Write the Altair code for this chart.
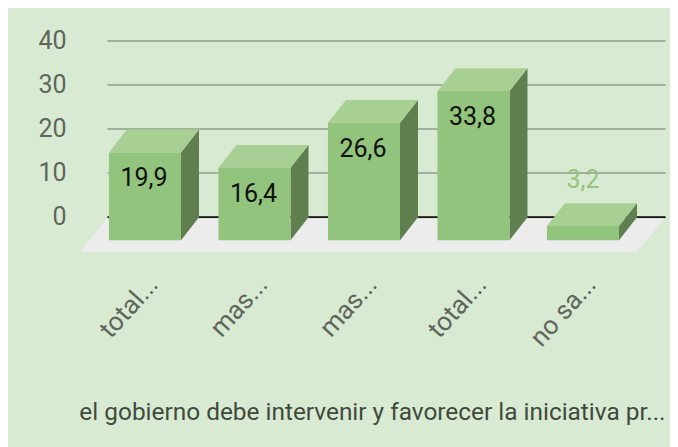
import altair as alt
import pandas as pd

categories = ["total...", "mas...", "mas...", "total...", "no sa..."]
values = [19.9, 16.4, 26.6, 33.8, 3.2]
value_labels = ["19,9", "16,4", "26,6", "33,8", "3,2"]
y_ticks = [0, 10, 20, 30, 40]
x_title = "el gobierno debe intervenir y favorecer la iniciativa pr..."

HW, DX = 0.329, 0.164      # half bar width and depth, in category units
BASE, DZ = -5.3, 5.2       # front floor level and depth, in value units
XDOM = [-0.347, 4.749]
YDOM = [0, 40]
FONT = "Roboto"
BG = "#d9ead3"

xs = alt.Scale(domain=XDOM, nice=False, zero=False, padding=0)
ys = alt.Scale(domain=YDOM, nice=False, zero=False, padding=0)

bars = pd.DataFrame({"u": range(len(values)), "v": values, "lab": value_labels})
bars["x0"] = bars.u - HW
bars["x1"] = bars.u + HW
bars["top"] = bars.v + BASE
bars["base"] = BASE
bars["uc"] = bars.u

side_rows, top_rows = [], []
for i, v in enumerate(values):
    side_rows += [
        {"b": i, "x": i + HW, "y": v + BASE, "y2": BASE},
        {"b": i, "x": i + HW + DX, "y": v + BASE + DZ, "y2": BASE + DZ},
    ]
    top_rows += [
        {"b": i, "y": v + BASE, "x": i - HW, "x2": i + HW},
        {"b": i, "y": v + BASE + DZ, "x": i - HW + DX, "x2": i + HW + DX},
    ]
side = pd.DataFrame(side_rows)
top = pd.DataFrame(top_rows)
floor = pd.DataFrame([
    {"y": -8.0, "x": -0.594, "x2": 4.49},
    {"y": -0.35, "x": -0.347, "x2": 4.749},
])

names_js = "[" + ",".join(f"'{c}'" for c in categories) + "]"

floor_layer = alt.Chart(floor).mark_area(orient="horizontal", color="#ececec").encode(
    y=alt.Y("y:Q", scale=ys, axis=alt.Axis(
        values=y_ticks, grid=True, gridColor="#a3b09b", gridWidth=2,
        ticks=False, domain=False, labelPadding=41, labelFont=FONT,
        labelFontSize=25, labelColor="#5f665b", title=None)),
    x=alt.X("x:Q", scale=xs, axis=alt.Axis(
        values=list(range(len(categories))), labelExpr=f"{names_js}[datum.value]",
        grid=False, ticks=False, domain=True, domainColor="#1a1a1a", domainWidth=2,
        labelAngle=-48, labelAlign="right", labelBaseline="middle",
        labelPadding=63, labelOffset=8, labelFont=FONT, labelFontSize=26,
        labelColor="#5f665b", labelOverlap=False, labelBound=False, labelFlush=False,
        title=x_title, titleFont=FONT, titleFontSize=24.4, titleFontWeight="normal",
        titleColor="#3f4a3d", titleAlign="right", titleBaseline="alphabetic",
        titleX=558, titleY=203)),
    x2="x2:Q",
)

side_layer = alt.Chart(side).mark_area(color="#5f7f4f").encode(
    x=alt.X("x:Q", scale=xs),
    y=alt.Y("y:Q", scale=ys),
    y2="y2:Q",
    detail="b:N",
)

top_layer = alt.Chart(top).mark_area(orient="horizontal", color="#a8d095").encode(
    y=alt.Y("y:Q", scale=ys),
    x=alt.X("x:Q", scale=xs),
    x2="x2:Q",
    detail="b:N",
)

front_layer = alt.Chart(bars).mark_rect(color="#93c47d").encode(
    x=alt.X("x0:Q", scale=xs),
    x2="x1:Q",
    y=alt.Y("top:Q", scale=ys),
    y2="base:Q",
)

inside = alt.Chart(bars).transform_filter("datum.v >= 5").mark_text(
    font=FONT, fontSize=25, color="#111111", baseline="middle", dy=26, dx=-1,
).encode(
    x=alt.X("uc:Q", scale=xs),
    y=alt.Y("top:Q", scale=ys),
    text="lab:N",
)

outside = alt.Chart(bars).transform_filter("datum.v < 5").mark_text(
    font=FONT, fontSize=25, color="#93c47d", baseline="middle", dy=-46,
).encode(
    x=alt.X("uc:Q", scale=xs),
    y=alt.Y("top:Q", scale=ys),
    text="lab:N",
)

chart = alt.layer(
    floor_layer, side_layer, top_layer, front_layer, inside, outside
).properties(
    width=558,
    height=176.4,
    background=BG,
    padding={"left": 99, "right": 5, "top": 32.4, "bottom": 230.2},
    autosize=alt.AutoSizeParams(type="none"),
).configure_view(stroke=None)

chart.save("out.html", embed_options={"renderer": "svg", "actions": False})
